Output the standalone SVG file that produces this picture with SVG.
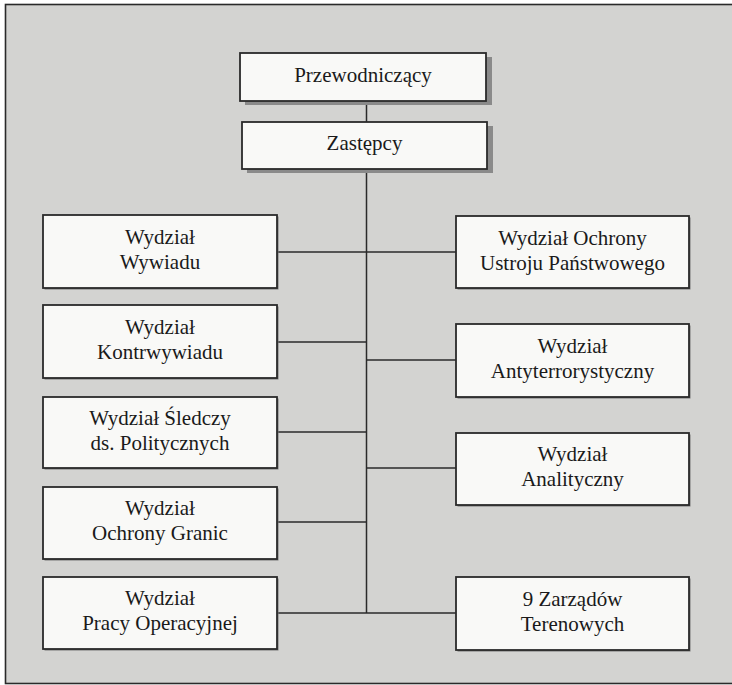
<svg xmlns="http://www.w3.org/2000/svg" width="732" height="685" viewBox="0 0 732 685">
<defs>
<style>
.box{fill:#f9f9f7;stroke:#2a2a2a;stroke-width:1.8}
.sh{fill:#8a8a8a}
.shs{fill:#777777}
.t{font-family:"Liberation Serif","Times New Roman",serif;font-size:21px;fill:#1a1a1a;text-anchor:middle}
.ln{stroke:#2a2a2a;stroke-width:1.5;fill:none}
</style>
</defs>
<rect x="0" y="0" width="732" height="685" fill="#ffffff"/>
<rect x="5.5" y="4.5" width="730" height="679" fill="#d3d3d1" stroke="#2a2a2a" stroke-width="1.6"/>
<g id="connectors">
<line class="ln" x1="366.5" y1="101" x2="366.5" y2="613"/>
<line class="ln" x1="277" y1="252" x2="456" y2="252"/>
<line class="ln" x1="277" y1="342" x2="366.5" y2="342"/>
<line class="ln" x1="366.5" y1="360" x2="456" y2="360"/>
<line class="ln" x1="277" y1="432" x2="366.5" y2="432"/>
<line class="ln" x1="366.5" y1="468" x2="456" y2="468"/>
<line class="ln" x1="277" y1="522" x2="366.5" y2="522"/>
<line class="ln" x1="277" y1="613" x2="456" y2="613" stroke-width="2.2"/>
</g>
<g id="przewodniczacy">
<rect class="sh" x="245" y="57" width="247" height="48"/>
<rect class="box" x="240" y="53" width="246" height="48"/>
<text class="t" x="363" y="82">Przewodniczący</text>
</g>
<g id="zastepcy">
<rect class="sh" x="247" y="126" width="246" height="47"/>
<rect class="box" x="242" y="122" width="245" height="47"/>
<text class="t" x="364.5" y="150">Zastępcy</text>
</g>
<g id="wywiad">
<rect class="shs" x="44.5" y="216.5" width="234" height="73"/>
<rect class="box" x="43" y="215" width="234" height="73"/>
<text class="t" x="160" y="244">Wydział</text>
<text class="t" x="160" y="269">Wywiadu</text>
</g>
<g id="kontrwywiad">
<rect class="shs" x="44.5" y="306.5" width="234" height="73"/>
<rect class="box" x="43" y="305" width="234" height="73"/>
<text class="t" x="160" y="334">Wydział</text>
<text class="t" x="160" y="359">Kontrwywiadu</text>
</g>
<g id="sledczy">
<rect class="shs" x="44.5" y="398.5" width="234" height="71"/>
<rect class="box" x="43" y="397" width="234" height="71"/>
<text class="t" x="160" y="425">Wydział Śledczy</text>
<text class="t" x="160" y="450">ds. Politycznych</text>
</g>
<g id="ochrona-granic">
<rect class="shs" x="44.5" y="488.5" width="234" height="72"/>
<rect class="box" x="43" y="487" width="234" height="72"/>
<text class="t" x="160" y="515">Wydział</text>
<text class="t" x="160" y="540">Ochrony Granic</text>
</g>
<g id="pracy-operacyjnej">
<rect class="shs" x="44.5" y="578.5" width="234" height="72"/>
<rect class="box" x="43" y="577" width="234" height="72"/>
<text class="t" x="160" y="605">Wydział</text>
<text class="t" x="160" y="630">Pracy Operacyjnej</text>
</g>
<g id="ochrona-ustroju">
<rect class="shs" x="457.5" y="217.5" width="233" height="72"/>
<rect class="box" x="456" y="216" width="233" height="72"/>
<text class="t" x="572.5" y="245">Wydział Ochrony</text>
<text class="t" x="572.5" y="270">Ustroju Państwowego</text>
</g>
<g id="antyterror">
<rect class="shs" x="457.5" y="325.5" width="233" height="73"/>
<rect class="box" x="456" y="324" width="233" height="73"/>
<text class="t" x="572.5" y="353">Wydział</text>
<text class="t" x="572.5" y="378">Antyterrorystyczny</text>
</g>
<g id="analityczny">
<rect class="shs" x="457.5" y="434.5" width="233" height="72"/>
<rect class="box" x="456" y="433" width="233" height="72"/>
<text class="t" x="572.5" y="461">Wydział</text>
<text class="t" x="572.5" y="486">Analityczny</text>
</g>
<g id="zarzady">
<rect class="shs" x="457.5" y="578.5" width="233" height="73"/>
<rect class="box" x="456" y="577" width="233" height="73"/>
<text class="t" x="572.5" y="606">9 Zarządów</text>
<text class="t" x="572.5" y="631">Terenowych</text>
</g>
</svg>
